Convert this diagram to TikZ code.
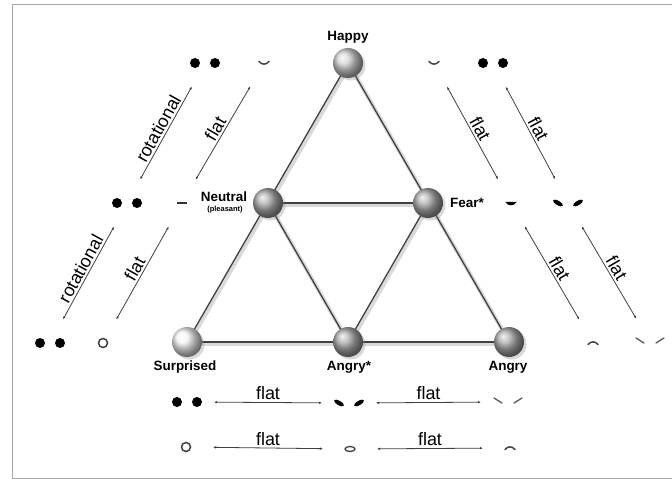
\documentclass[tikz,border=0pt]{standalone}
\usepackage{fontspec}
\setmainfont{Liberation Sans}
\usepackage{tikz}
\usetikzlibrary{arrows.meta, shadows, backgrounds}

\tikzset{
  sphere/.style={circle, minimum size=30bp, inner sep=0pt, ball color=#1,
    drop shadow={shadow xshift=2.5bp, shadow yshift=-2.5bp, opacity=.3}},
  emo/.style={font=\bfseries\fontsize{13.5}{15}\selectfont, inner sep=0pt},
  tie/.style={draw=black!75, line width=1.3bp,
    preaction={draw=black!15, line width=4bp, transform canvas={shift={(1.5bp,-2bp)}}}},
  morph/.style={<->, draw=black!75, line width=.8bp, shorten <=27bp, shorten >=27bp},
  tag/.style={font=\fontsize{18}{20}\selectfont, inner sep=2bp},
  % face parts
  eyes/.pic={\fill (-10,0) circle (5); \fill (10,0) circle (5);},
  slant/.pic={\fill[rotate around={-30:(-10,0)}] (-10,0) ellipse (5.5 and 2.3);
              \fill[rotate around={30:(10,0)}] (10,0) ellipse (5.5 and 2.3);},
  brows/.pic={\draw[black!65, line width=1.3bp, line cap=round] (-14,-4) -- (-6,1) (6,1) -- (14,-4);},
  smile/.pic={\draw[black!75, line width=1.5bp, line cap=round] (-5,-1.5) .. controls (-2,2) and (2,2) .. (5,-1.5);},
  frown/.pic={\draw[black!75, line width=1.5bp, line cap=round] (-5,1.5) .. controls (-2,-2) and (2,-2) .. (5,1.5);},
  level/.pic={\draw[black!80, line width=2bp] (-5,0) -- (5,0);},
  gape/.pic={\draw[black!75, line width=1.5bp] (0,0) circle (4.5);},
  oval/.pic={\draw[black!75, line width=1.3bp] (0,0) ellipse (5 and 2.5);},
  cup/.pic={\fill (-5.5,-1) .. controls (-3,3.5) and (3,3.5) .. (5.5,-1) -- cycle;}
}

\begin{document}
\begin{tikzpicture}[x=1bp, y=-1bp, >={Latex[length=3bp,width=2.5bp]}]
    \useasboundingbox (0,0) rectangle (672,479);
    \draw[gray!70, line width=1bp] (672,5) -- (12,5) -- (12,478) -- (672,478);

    % Spheres
    \node[sphere=gray!35] (happy) at (348,63) {};
    \node[sphere=gray!65] (neutral) at (268,203) {};
    \node[sphere=gray!65] (fear) at (428,203) {};
    \node[sphere=gray!8] (surprised) at (187,342) {};
    \node[sphere=gray!65] (angrys) at (348,342) {};
    \node[sphere=gray!65] (angry) at (509,342) {};

    % Triangle
    \begin{scope}[on background layer]
        \draw[tie] (happy.center) -- (surprised.center);
        \draw[tie] (happy.center) -- (angry.center);
        \draw[tie] (surprised.center) -- (angry.center);
        \draw[tie] (neutral.center) -- (fear.center);
        \draw[tie] (neutral.center) -- (angrys.center);
        \draw[tie] (fear.center) -- (angrys.center);
    \end{scope}

    % Names
    \node[emo] (tHappy) at (348,37) {Happy};
    \node[emo] (tNeutral) at (224,197) {Neutral};
    \node[emo, font=\bfseries\fontsize{7.5}{8}\selectfont] (tPleasant) at (225,210) {(pleasant)};
    \node[emo] (tFear) at (467,203) {Fear*};
    \node[emo] (tSurprised) at (185,367) {Surprised};
    \node[emo] (tAngrys) at (349,367) {Angry*};
    \node[emo] (tAngry) at (508,367) {Angry};

    % Faces, left
    \coordinate (eH) at (205,63);  \pic at (eH) {eyes};
    \coordinate (mH) at (264,63);  \pic at (mH) {smile};
    \coordinate (eN) at (127,203); \pic at (eN) {eyes};
    \coordinate (mN) at (182,203); \pic at (mN) {level};
    \coordinate (eS) at (50,343);  \pic at (eS) {eyes};
    \coordinate (mS) at (103,343); \pic at (mS) {gape};

    % Faces, right
    \coordinate (mH2) at (434,63); \pic at (mH2) {smile};
    \coordinate (eH2) at (493,63); \pic at (eH2) {eyes};
    \coordinate (mF) at (511,203); \pic at (mF) {cup};
    \coordinate (eF) at (568,203); \pic at (eF) {slant};
    \coordinate (mA) at (593,343); \pic at (mA) {frown};
    \coordinate (eA) at (650,342); \pic at (eA) {brows};

    % Faces, bottom rows
    \coordinate (e1) at (187,402); \pic at (e1) {eyes};
    \coordinate (e2) at (349,403); \pic at (e2) {slant};
    \coordinate (e3) at (508,402); \pic at (e3) {brows};
    \coordinate (m1) at (186,447); \pic at (m1) {gape};
    \coordinate (m2) at (350,449); \pic at (m2) {oval};
    \coordinate (m3) at (510,448); \pic at (m3) {frown};

    % Morph arrows
    \draw[morph] (eN) -- (eH) node[tag, midway, sloped, above] {rotational};
    \draw[morph] (mN) -- (mH) node[tag, midway, sloped, above] {flat};
    \draw[morph] (eS) -- (eN) node[tag, midway, sloped, above] {rotational};
    \draw[morph] (mS) -- (mN) node[tag, midway, sloped, above] {flat};
    \draw[morph] (mH2) -- (mF) node[tag, midway, sloped, above] {flat};
    \draw[morph] (eH2) -- (eF) node[tag, midway, sloped, above] {flat};
    \draw[morph] (mF) -- (mA) node[tag, midway, sloped, above] {flat};
    \draw[morph] (eF) -- (eA) node[tag, midway, sloped, above] {flat};
    \draw[morph] (e1) -- (e2) node[tag, midway, above] {flat};
    \draw[morph] (e2) -- (e3) node[tag, midway, above] {flat};
    \draw[morph] (m1) -- (m2) node[tag, midway, above] {flat};
    \draw[morph] (m2) -- (m3) node[tag, midway, above] {flat};
\end{tikzpicture}
\end{document}
